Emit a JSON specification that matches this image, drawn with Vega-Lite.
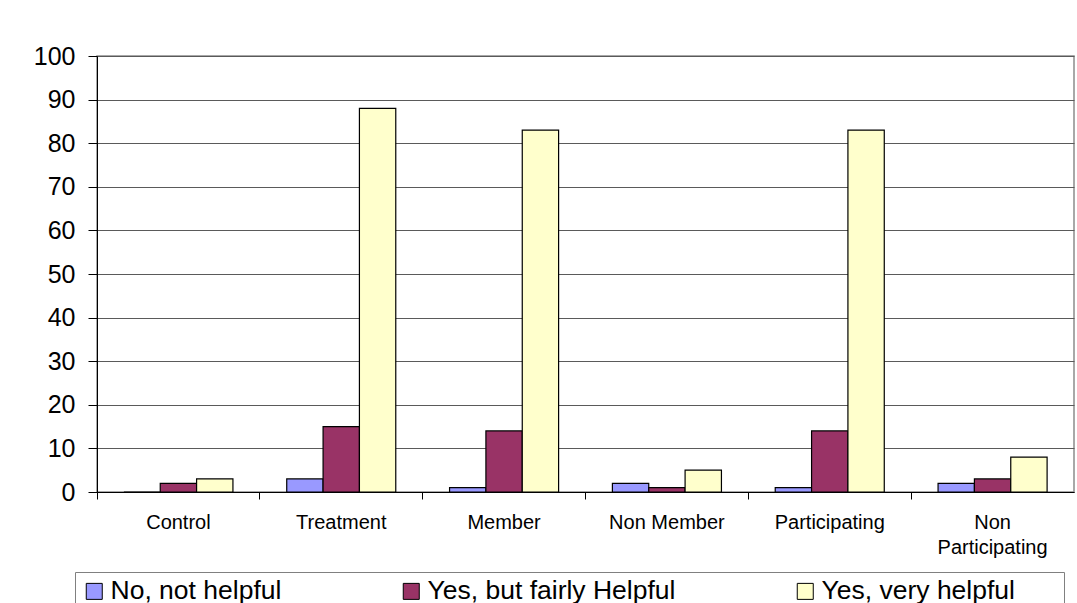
{
  "$schema": "https://vega.github.io/schema/vega-lite/v6.json",
  "width": 977,
  "height": 436,
  "autosize": {"type": "none"},
  "padding": {"left": 97, "top": 56, "right": 3, "bottom": 111},
  "background": "white",
  "config": {
    "font": "Liberation Sans",
    "view": {"stroke": "#8c8c8c", "strokeWidth": 1.5}
  },
  "data": {
    "values": [
      {"group": "Control", "response": "No, not helpful", "value": 0},
      {"group": "Control", "response": "Yes, but fairly Helpful", "value": 2},
      {"group": "Control", "response": "Yes, very helpful", "value": 3},
      {"group": "Treatment", "response": "No, not helpful", "value": 3},
      {"group": "Treatment", "response": "Yes, but fairly Helpful", "value": 15},
      {"group": "Treatment", "response": "Yes, very helpful", "value": 88},
      {"group": "Member", "response": "No, not helpful", "value": 1},
      {"group": "Member", "response": "Yes, but fairly Helpful", "value": 14},
      {"group": "Member", "response": "Yes, very helpful", "value": 83},
      {"group": "Non Member", "response": "No, not helpful", "value": 2},
      {"group": "Non Member", "response": "Yes, but fairly Helpful", "value": 1},
      {"group": "Non Member", "response": "Yes, very helpful", "value": 5},
      {"group": "Participating", "response": "No, not helpful", "value": 1},
      {"group": "Participating", "response": "Yes, but fairly Helpful", "value": 14},
      {"group": "Participating", "response": "Yes, very helpful", "value": 83},
      {"group": "Non Participating", "response": "No, not helpful", "value": 2},
      {"group": "Non Participating", "response": "Yes, but fairly Helpful", "value": 3},
      {"group": "Non Participating", "response": "Yes, very helpful", "value": 8}
    ]
  },
  "mark": {"type": "bar", "stroke": "black", "strokeWidth": 1.2},
  "encoding": {
    "x": {
      "field": "group",
      "type": "nominal",
      "sort": ["Control", "Treatment", "Member", "Non Member", "Participating", "Non Participating"],
      "scale": {"paddingInner": 0, "paddingOuter": 0},
      "axis": {
        "title": null,
        "labelAngle": 0,
        "labelFontSize": 20,
        "labelColor": "black",
        "labelPadding": 13,
        "labelLineHeight": 25,
        "labelLimit": 0,
        "labelExpr": "datum.label == 'Non Participating' ? ['Non', 'Participating'] : datum.label",
        "tickSize": 7,
        "tickColor": "black",
        "domainColor": "black",
        "bandPosition": 0
      }
    },
    "xOffset": {
      "field": "response",
      "sort": ["No, not helpful", "Yes, but fairly Helpful", "Yes, very helpful"],
      "scale": {"paddingInner": 0, "paddingOuter": 0.74}
    },
    "y": {
      "field": "value",
      "type": "quantitative",
      "scale": {"domain": [0, 100], "nice": false},
      "axis": {
        "title": null,
        "values": [0, 10, 20, 30, 40, 50, 60, 70, 80, 90, 100],
        "labelFontSize": 25,
        "labelColor": "black",
        "labelPadding": 13,
        "tickSize": 9,
        "tickColor": "black",
        "domainColor": "black",
        "gridColor": "#5a5a5a",
        "gridOpacity": 1
      }
    },
    "color": {
      "field": "response",
      "type": "nominal",
      "scale": {
        "domain": ["No, not helpful", "Yes, but fairly Helpful", "Yes, very helpful"],
        "range": ["#9999FF", "#993366", "#FFFFCC"]
      },
      "legend": {
        "orient": "none",
        "legendX": -22,
        "legendY": 516,
        "direction": "horizontal",
        "columns": 3,
        "columnPadding": 116,
        "symbolType": "square",
        "symbolSize": 256,
        "symbolStrokeColor": "black",
        "symbolStrokeWidth": 1,
        "labelFontSize": 26.5,
        "labelColor": "black",
        "labelOffset": 3,
        "labelLimit": 500,
        "strokeColor": "#808080",
        "fillColor": "white",
        "padding": 6,
        "title": " ",
        "titleOrient": "right",
        "titleFontSize": 26,
        "titlePadding": 43
      }
    }
  }
}
